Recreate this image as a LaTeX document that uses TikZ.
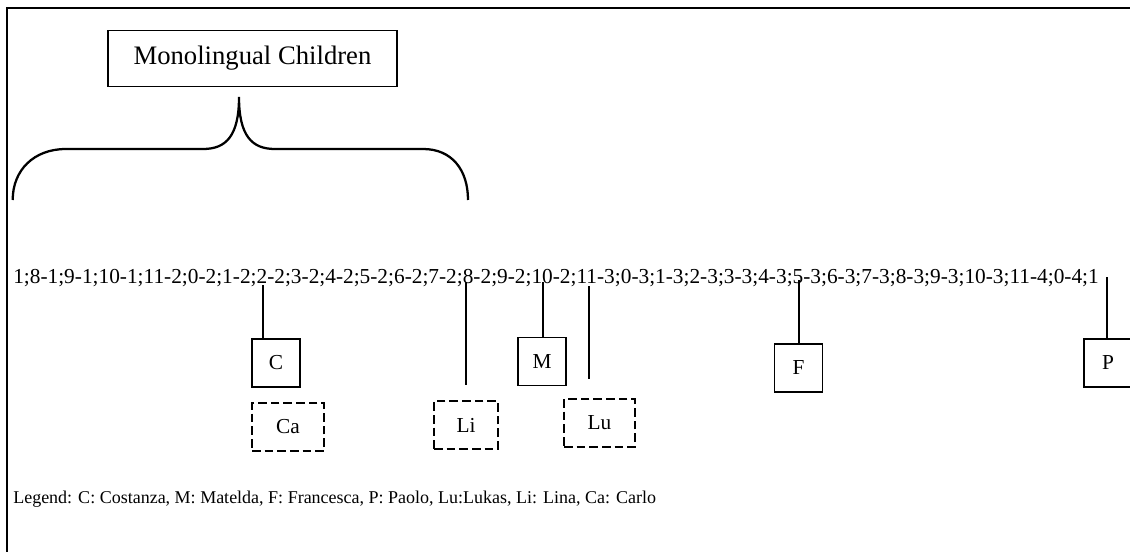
\documentclass[tikz,border=0pt]{standalone}
\usepackage{fontspec}
\setmainfont{Liberation Serif}

\begin{document}
\begin{tikzpicture}[x=0.75pt,y=-0.75pt,
    kid/.style={draw, line width=1pt, minimum width=36pt, minimum height=36pt, inner sep=0pt, font=\fontsize{16}{19}\selectfont},
    sib/.style={draw, line width=1pt, dash pattern=on 6.5pt off 3pt, minimum height=36pt, inner sep=0pt, font=\fontsize{16}{19}\selectfont},
    tick/.style={line width=1.5pt}]
            \useasboundingbox (0,0) rectangle (1130,552);
            \draw[line width=1.3pt] (7,552) -- (7,8) -- (1130,8);
            \node[draw, line width=1pt, minimum width=216.75pt, minimum height=42pt, inner sep=0pt, font=\fontsize{20}{24}\selectfont] (mono) at (252.5,58.5) {Monolingual Children\hspace{7pt}};
            \draw[line width=1.7pt] (12.7,200) .. controls (12.7,170) and (34,149) .. (66,149) -- (203,149)
                .. controls (226,149) and (239,136) .. (239,97)
                .. controls (239,136) and (252,149) .. (275,149) -- (423,149)
                .. controls (452,149) and (468,170) .. (468,200);
            \node[anchor=base west, inner sep=0pt, font=\fontsize{16}{19}\selectfont] (ages) at (13,283)
                {1;8-1;9-1;10-1;11-2;0-2;1-2;2-2;3-2;4-2;5-2;6-2;7-2;8-2;9-2;10-2;11-3;0-3;1-3;2-3;3-3;4-3;5-3;6-3;7-3;8-3;9-3;10-3;11-4;0-4;1};
            \node[kid] (C) at (276,363) {C};
            \node[kid] (M) at (542,361.5) {M};
            \node[kid] (F) at (798.5,368) {F};
            \node[kid] (P) at (1108,363) {P};
            \node[sib, minimum width=54pt] (Ca) at (288,427) {Ca};
            \node[sib, minimum width=48pt] (Li) at (466,425) {Li};
            \node[sib, minimum width=53.25pt] (Lu) at (599.5,423) {Lu};
            \coordinate (tC) at (263,285);
            \coordinate (tLi) at (466,282);
            \coordinate (eLi) at (466,385);
            \coordinate (tM) at (543,282);
            \coordinate (tLu) at (589,286);
            \coordinate (eLu) at (589,379);
            \coordinate (tF) at (799,280);
            \coordinate (tP) at (1107,277);
            \draw[tick] (tC) -- (tC |- C.north);
            \draw[tick] (tLi) -- (eLi);
            \draw[tick] (tM) -- (tM |- M.north);
            \draw[tick] (tLu) -- (eLu);
            \draw[tick] (tF) -- (tF |- F.north);
            \draw[tick] (tP) -- (tP |- P.north);
            \node[anchor=base west, inner sep=0pt, font=\fontsize{13.5}{16}\selectfont] (legend) at (13,503)
                {Legend: C: Costanza, M: Matelda, F: Francesca, P: Paolo, Lu:Lukas, Li: Lina, Ca: Carlo};
\end{tikzpicture}
\end{document}
